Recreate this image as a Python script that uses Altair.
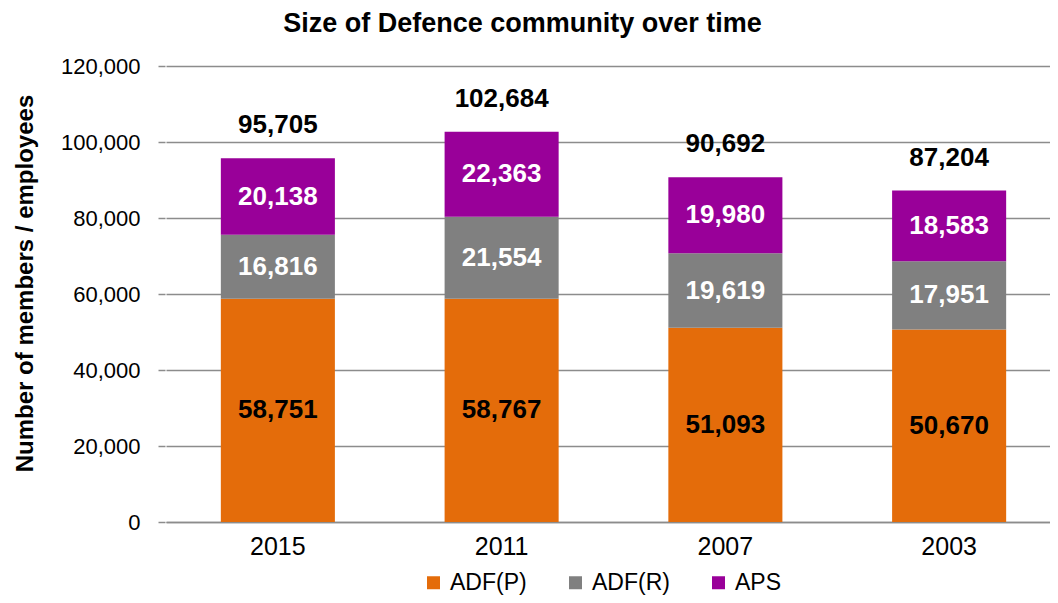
import altair as alt
import pandas as pd

years = ["2015", "2011", "2007", "2003"]
series = ["ADF(P)", "ADF(R)", "APS"]
adf_p = [58751, 58767, 51093, 50670]
adf_r = [16816, 21554, 19619, 17951]
aps = [20138, 22363, 19980, 18583]
totals = [95705, 102684, 90692, 87204]
colors = ["#E46C0A", "#808080", "#990099"]
text_colors = ["#000000", "#FFFFFF", "#FFFFFF"]

FONT = "Liberation Sans"

rows = []
for i, y in enumerate(years):
    base = 0
    for s, vals, tc in zip(series, [adf_p, adf_r, aps], text_colors):
        v = vals[i]
        rows.append({"year": y, "series": s, "value": v, "start": base,
                     "end": base + v, "mid": base + v / 2, "tc": tc})
        base += v
df = pd.DataFrame(rows)
tot_df = pd.DataFrame({"year": years, "total": totals})

x_axis = alt.Axis(title=None, labelAngle=0, ticks=False, domain=True,
                  domainColor="#8c8c8c", domainWidth=1.5,
                  labelFontSize=25, labelFont=FONT, labelColor="#000000",
                  labelPadding=12)
x_scale = alt.Scale(range=[1, 896], paddingInner=0.4903, paddingOuter=0.2451)
y_axis = alt.Axis(values=list(range(0, 120001, 20000)), format=",d",
                  title="Number of members / employees",
                  grid=True, gridColor="#8c8c8c", gridWidth=1.5,
                  domain=False, tickColor="#8c8c8c", tickSize=7, tickWidth=1.5,
                  labelPadding=18, labelFontSize=22, labelFont=FONT,
                  labelColor="#000000",
                  titleFontSize=24, titleFont=FONT, titleFontWeight="bold",
                  titleColor="#000000", titleAngle=270, titleX=-133, titleY=217,
                  titleAlign="center", titleBaseline="alphabetic")
y_scale = alt.Scale(domain=[0, 120000], nice=False)


def xe():
    return alt.X("year:N", sort=years, scale=x_scale, axis=x_axis)


def ye(field):
    return alt.Y(field, scale=y_scale, axis=y_axis)


bars = alt.Chart(df).mark_bar().encode(
    x=xe(),
    y=ye("start:Q"),
    y2="end:Q",
    color=alt.Color("series:N", scale=alt.Scale(domain=series, range=colors),
                    legend=alt.Legend(title=None, orient="none", legendX=257, legendY=505,
                                      direction="horizontal", symbolType="square",
                                      symbolSize=169, symbolStrokeWidth=0,
                                      labelFontSize=23, labelFont=FONT,
                                      labelColor="#000000", labelOffset=5,
                                      columnPadding=37, padding=0)),
)

seg_text = alt.Chart(df).mark_text(font=FONT, fontSize=26, fontWeight="bold",
                                   baseline="middle").encode(
    x=xe(),
    y=ye("mid:Q"),
    text=alt.Text("value:Q", format=","),
    color=alt.Color("tc:N", scale=None),
)

tot_text = alt.Chart(tot_df).mark_text(font=FONT, fontSize=26, fontWeight="bold",
                                       baseline="alphabetic", dy=-25,
                                       color="#000000").encode(
    x=xe(),
    y=ye("total:Q"),
    text=alt.Text("total:Q", format=","),
)

chart = alt.layer(bars, seg_text, tot_text).properties(
    width=885, height=456,
    padding={"left": 157, "top": 58, "right": 0, "bottom": 73},
    autosize=alt.AutoSizeParams(type="none"),
    title=alt.TitleParams("Size of Defence community over time", fontSize=27,
                          font=FONT, fontWeight="bold", color="#000000",
                          anchor="middle", dx=-85, offset=17),
).configure_view(stroke=None)

chart.save("out.html", embed_options={"renderer": "svg", "actions": False})
